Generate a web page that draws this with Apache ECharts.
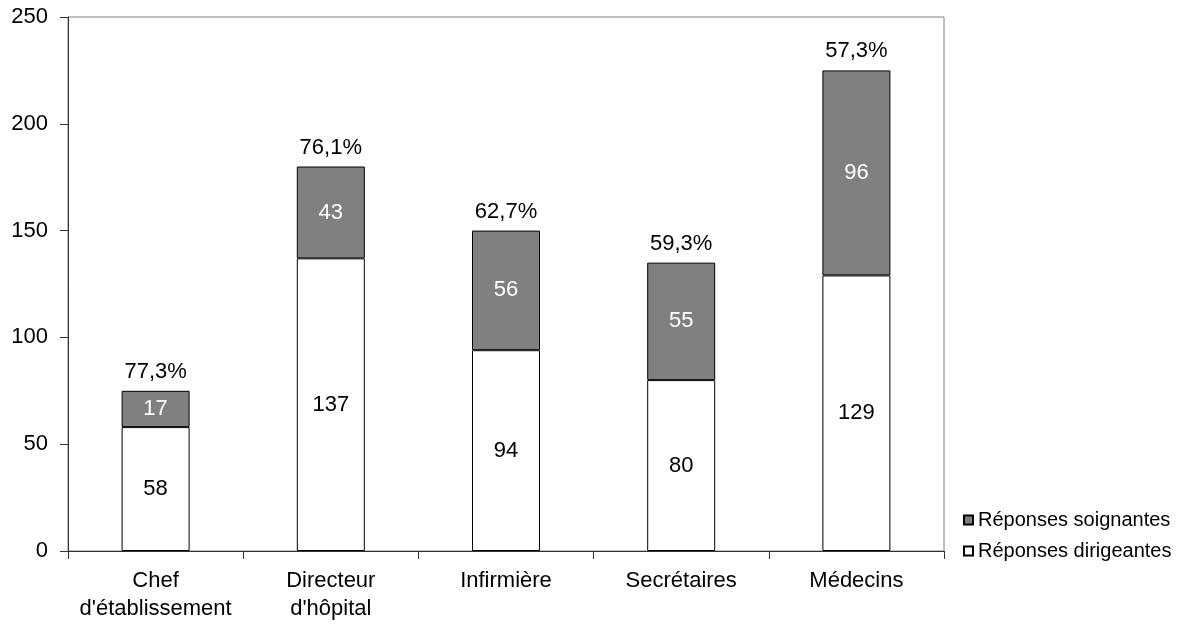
<!DOCTYPE html>
<html>
<head>
<meta charset="utf-8">
<script src="https://cdn.jsdelivr.net/npm/echarts@6/dist/echarts.min.js"></script>
<style>
  html, body { margin: 0; padding: 0; background: #fff; }
  #chart { width: 1181px; height: 630px; }
</style>
</head>
<body>
<div id="chart"></div>
<script>
// Categories and counts per group
const categories = ["Chef\nd'établissement", "Directeur\nd'hôpital", "Infirmière", "Secrétaires", "Médecins"];
const dirigeantes = [58, 137, 94, 80, 129];
const soignantes = [17, 43, 56, 55, 96];
const yTicks = [0, 50, 100, 150, 200, 250];

// Share of "dirigeantes" answers in each total, shown above the stack
const shares = dirigeantes.map((d, i) => (100 * d / (d + soignantes[i])).toFixed(1).replace('.', ','));

const font = 'Liberation Sans, Arial, sans-serif';
const chart = echarts.init(document.getElementById('chart'), null, { renderer: 'canvas' });

chart.setOption({
  animation: false,
  backgroundColor: '#ffffff',
  grid: {
    left: 68, right: 237, top: 17, bottom: 79,
    show: true, borderColor: '#808080', borderWidth: 1, backgroundColor: 'transparent'
  },
  legend: {
    orient: 'vertical',
    left: 958, top: 505,
    itemWidth: 9, itemHeight: 9, itemGap: 11, itemTextGap: 10,
    icon: 'rect',
    data: ['Réponses soignantes', 'Réponses dirigeantes'],
    textStyle: { fontFamily: font, fontSize: 20, color: '#000' }
  },
  xAxis: {
    type: 'category',
    data: categories,
    boundaryGap: true,
    axisLine: { lineStyle: { color: '#333', width: 1 } },
    axisTick: { show: true, length: 8, inside: false, lineStyle: { color: '#333' } },
    axisLabel: { interval: 0, fontFamily: font, fontSize: 22, color: '#000', margin: 16, lineHeight: 28 }
  },
  yAxis: {
    type: 'value',
    min: yTicks[0], max: yTicks[yTicks.length - 1], interval: 50,
    splitLine: { show: false },
    axisLine: { show: true, lineStyle: { color: '#333', width: 1 } },
    axisTick: { show: true, length: 8, lineStyle: { color: '#333' } },
    axisLabel: { fontFamily: font, fontSize: 22, color: '#000', margin: 20 }
  },
  series: [
    {
      name: 'Réponses dirigeantes',
      type: 'bar', stack: 'total', barWidth: 68,
      data: dirigeantes,
      itemStyle: { color: '#ffffff', borderColor: '#000', borderWidth: 1 },
      label: { show: true, position: 'inside', fontFamily: font, fontSize: 22, color: '#000' }
    },
    {
      name: 'Réponses soignantes',
      type: 'bar', stack: 'total', barWidth: 68,
      data: soignantes,
      itemStyle: { color: '#808080', borderColor: '#000', borderWidth: 1 },
      label: { show: true, position: 'inside', fontFamily: font, fontSize: 22, color: '#fff' }
    },
    {
      name: 'share',
      type: 'bar', stack: 'total', barWidth: 68,
      data: shares.map(() => 0),
      itemStyle: { color: 'transparent', borderWidth: 0 },
      label: {
        show: true, position: 'top', distance: 8,
        fontFamily: font, fontSize: 22, color: '#000',
        formatter: p => shares[p.dataIndex] + '%'
      },
      tooltip: { show: false }
    }
  ]
});
</script>
</body>
</html>
